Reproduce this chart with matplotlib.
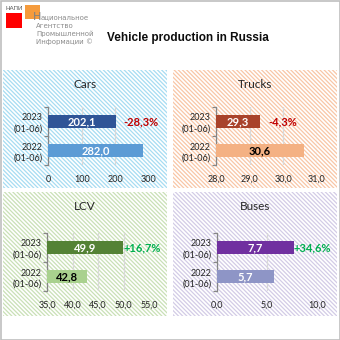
import matplotlib
matplotlib.use("Agg")
import matplotlib.pyplot as plt
from matplotlib.patches import Rectangle
from matplotlib.ticker import FuncFormatter

# Данные
periods = ['2022\n(01-06)', '2023\n(01-06)']
cars = [282.0, 202.1]
trucks = [30.6, 29.3]
lcv = [42.8, 49.9]
buses = [5.7, 7.7]
changes = ['-28,3%', '-4,3%', '+16,7%', '+34,6%']
titles = ['Cars', 'Trucks', 'LCV', 'Buses']
limits = [(0, 300), (28, 31), (35, 55), (0, 10)]
ticks = [[0, 100, 200, 300], [28, 29, 30, 31], [35, 40, 45, 50, 55], [0, 5, 10]]

plt.rcParams['font.family'] = ['Lato', 'DejaVu Sans']
plt.rcParams['hatch.linewidth'] = 0.9

W = H = 340.0


def fx(x):
    return x / W


def fy(y):
    return 1 - y / H


fig = plt.figure(figsize=(3.4, 3.4), dpi=100)
fig.patch.set_facecolor('white')

# рамка
fig.add_artist(Rectangle((0.5 / W, 0.5 / H), 1 - 1 / W, 1 - 1 / H, transform=fig.transFigure,
                         fill=False, edgecolor='#BFBFBF', lw=1.2, zorder=-2))

# логотип
fig.text(fx(6), fy(8), 'НАПИ', fontsize=4.5, color='#595959', va='center', family='Liberation Sans')
fig.add_artist(Rectangle((fx(6), fy(28)), 16 / W, 15 / H, transform=fig.transFigure,
                         facecolor='#FF0000', lw=0, zorder=-1))
fig.add_artist(Rectangle((fx(25), fy(19)), 15 / W, 14 / H, transform=fig.transFigure,
                         facecolor='#F59B3C', lw=0, zorder=-1))
fig.text(fx(32.5), fy(16.5), 'Н', fontsize=8, color='#808080', va='center', family='Liberation Sans Narrow')
logo_lines = ['ациональное', 'Агентство', 'Промышленной', 'Информации ©']
for i, line in enumerate(logo_lines):
    fig.text(fx(40.5 if i == 0 else 36), fy(17.5 + 8 * i), line, fontsize=5, color='#8C8C8C',
             va='center', family='Liberation Sans Narrow')

fig.text(fx(188), fy(38), 'Vehicle production in Russia', fontsize=8.5, fontweight='bold',
         ha='center', va='center', family='Liberation Sans', color='#0D0D0D')

panels = [
    dict(box=(3, 70, 167, 188), hatch='#A6DCF2', ax=(48, 107, 149, 165),
         colors=['#5B9BD5', '#2F5597'], txt=['white', 'white'], off=7),
    dict(box=(173, 70, 337, 188), hatch='#F8C6A6', ax=(216, 107, 317, 165),
         colors=['#F4B183', '#A9432B'], txt=['black', 'white'], off=9),
    dict(box=(3, 192, 167, 316), hatch='#C9E0B6', ax=(47, 233, 149, 291),
         colors=['#A9D18E', '#548235'], txt=['black', 'white'], off=1),
    dict(box=(173, 192, 337, 316), hatch='#D3CCE6', ax=(217, 233, 317, 291),
         colors=['#8E95C6', '#7030A0'], txt=['white', 'white'], off=0),
]
series = [cars, trucks, lcv, buses]

for k, p in enumerate(panels):
    x0, y0, x1, y1 = p['box']
    fig.add_artist(Rectangle((fx(x0), fy(y1)), (x1 - x0) / W, (y1 - y0) / H,
                             transform=fig.transFigure, facecolor='white',
                             edgecolor=p['hatch'], hatch='\\' * 8, lw=0, zorder=-1))
    fig.text(fx((x0 + x1) / 2), fy(y0 + 15), titles[k], fontsize=8.5, ha='center',
             va='center', color='#262626')

    a0, b0, a1, b1 = p['ax']
    ax = fig.add_axes([fx(a0), fy(b1), (a1 - a0) / W, (b1 - b0) / H])
    ax.patch.set_alpha(0)
    vals = series[k]
    ypos = [0, 1]
    bars = ax.barh(ypos, vals, height=0.48, color=p['colors'], zorder=3)
    lo, hi = limits[k]
    ax.set_xlim(lo, hi)
    ax.set_ylim(-0.5, 1.5)
    ax.set_xticks(ticks[k])
    if k == 0:
        ax.xaxis.set_major_formatter(FuncFormatter(lambda v, pos: f'{v:.0f}'))
    else:
        ax.xaxis.set_major_formatter(FuncFormatter(lambda v, pos: f'{v:.1f}'.replace('.', ',')))
    ax.grid(axis='x', color='#D9D9D9', lw=0.9, zorder=0)
    ax.set_yticks([-0.5, 0.5, 1.5])
    ax.set_yticklabels([])
    ax.set_yticks(ypos, minor=True)
    ax.set_yticklabels(periods, minor=True, fontsize=6.5, color='#262626', linespacing=1.3)
    ax.tick_params(axis='y', which='minor', length=0, pad=4)
    ax.tick_params(axis='y', which='major', length=3, color='#868686', width=0.9)
    ax.tick_params(axis='x', length=0, labelsize=6.5, labelcolor='#262626', pad=7)
    for s in ['top', 'right', 'bottom']:
        ax.spines[s].set_visible(False)
    ax.spines['left'].set_color('#868686')
    ax.spines['left'].set_linewidth(0.9)

    for b, v, c in zip(bars, vals, p['txt']):
        ax.text(lo + (v - lo) / 2, b.get_y() + b.get_height() / 2,
                f'{v:.1f}'.replace('.', ','), ha='center', va='center',
                color=c, fontsize=8, fontweight='bold', zorder=4)

    col = '#C00000' if changes[k].startswith('-') else '#00B050'
    ax.annotate(changes[k], (vals[1], 1), xytext=(p['off'] * 0.72, 0),
                textcoords='offset points', ha='left', va='center',
                color=col, fontsize=8, fontweight='bold', annotation_clip=False)

fig.savefig('out.png', dpi=100)
